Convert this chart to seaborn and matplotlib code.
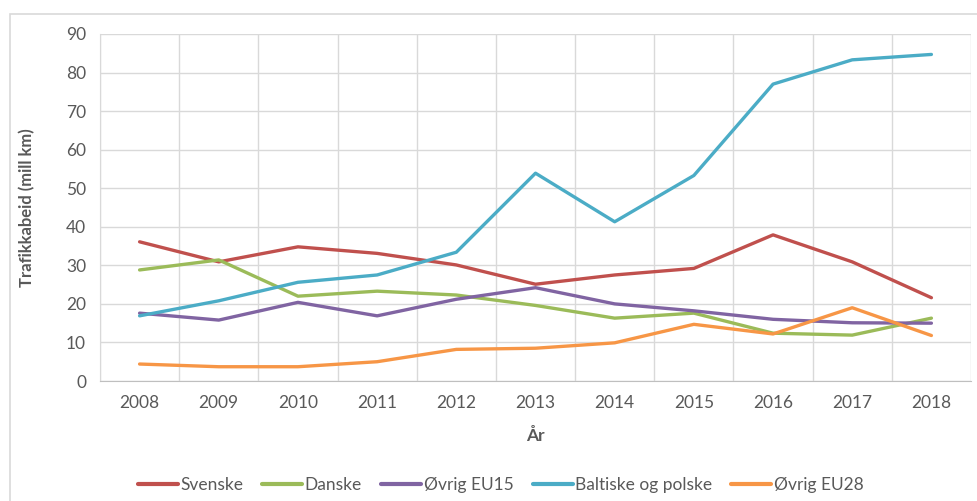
import numpy as np
import pandas as pd
import matplotlib
matplotlib.use("Agg")
import matplotlib.pyplot as plt
import seaborn as sns
from matplotlib.patches import Rectangle

years = [2008, 2009, 2010, 2011, 2012, 2013, 2014, 2015, 2016, 2017, 2018]
svenske = [36.1, 30.9, 34.8, 33.1, 30.1, 25.1, 27.5, 29.2, 37.9, 30.9, 21.6]
danske = [28.8, 31.4, 22.0, 23.3, 22.3, 19.6, 16.3, 17.6, 12.4, 11.9, 16.3]
ovrig_eu15 = [17.6, 15.8, 20.4, 16.9, 21.2, 24.2, 20.0, 18.2, 16.0, 15.1, 15.0]
baltiske = [16.9, 20.8, 25.6, 27.5, 33.4, 53.9, 41.3, 53.3, 77.0, 83.3, 84.7]
ovrig_eu28 = [4.4, 3.7, 3.7, 5.0, 8.2, 8.5, 9.9, 14.7, 12.2, 19.0, 11.8]

series = {
    "Svenske": svenske,
    "Danske": danske,
    "Øvrig EU15": ovrig_eu15,
    "Baltiske og polske": baltiske,
    "Øvrig EU28": ovrig_eu28,
}
colors = ["#C0504D", "#9BBB59", "#8064A2", "#4BACC6", "#F79646"]

rows = []
for name, vals in series.items():
    for i, v in enumerate(vals):
        rows.append({"pos": i, "År": years[i], "serie": name, "verdi": v})
df = pd.DataFrame(rows)

sns.set_style("white")
plt.rcParams["font.family"] = ["Lato", "DejaVu Sans"]
text_col = "#595959"

fig = plt.figure(figsize=(9.78, 5.01), dpi=100)
ax = fig.add_axes([100 / 978, 1 - 381 / 501, 871 / 978, 347 / 501])

sns.lineplot(data=df, x="pos", y="verdi", hue="serie", palette=colors,
             linewidth=2.4, ax=ax, legend=True)

# Excel-style category axis: gridlines between categories
n = len(years)
ax.set_xlim(-0.5, n - 0.5)
ax.set_xticks(np.arange(n))
ax.set_xticklabels([str(y) for y in years])
ax.set_xticks(np.arange(n + 1) - 0.5, minor=True)
ax.set_ylim(0, 90)
ax.set_yticks(np.arange(0, 91, 10))
ax.grid(True, which="minor", axis="x", color="#D9D9D9", linewidth=1)
ax.grid(True, which="major", axis="y", color="#D9D9D9", linewidth=1)
ax.tick_params(axis="both", which="both", length=0, labelsize=12.5,
               labelcolor=text_col, pad=10)
for side in ["top", "right"]:
    ax.spines[side].set_visible(False)
ax.spines["left"].set_color("#D9D9D9")
ax.spines["bottom"].set_color("#BFBFBF")

ax.set_xlabel("År", fontsize=12.5, fontweight="bold", color=text_col, labelpad=12)
ax.set_ylabel("Trafikkabeid (mill km)", fontsize=12, fontweight="bold",
              color=text_col, labelpad=22)

handles, labels = ax.get_legend_handles_labels()
for h in handles:
    h.set_linewidth(3)
ax.legend(handles, labels, loc="center", bbox_to_anchor=(0.46, -0.30),
          ncol=5, frameon=False, fontsize=12.5, labelcolor=text_col,
          handlelength=2.3, handletextpad=0.15, columnspacing=1.1)

# outer chart border
fig.patches.append(Rectangle((10 / 978, -0.1), 1.1, 1.1 - 14 / 501,
                             transform=fig.transFigure, fill=False,
                             edgecolor="#D9D9D9", linewidth=1.2))

fig.savefig("out.png", dpi=100)
